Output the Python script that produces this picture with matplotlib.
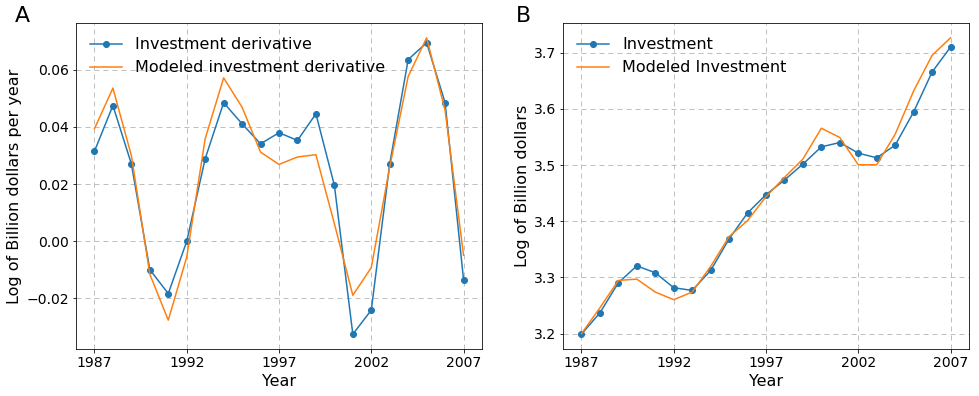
# Import libraries
import numpy as np
import matplotlib.pyplot as plt

# Data
years = np.arange(1987, 2008)

inv_deriv = [0.0315, 0.0475, 0.0271, -0.0099, -0.0183, 0.0000, 0.0289,
             0.0485, 0.0411, 0.0341, 0.0380, 0.0353, 0.0446, 0.0196,
             -0.0325, -0.0241, 0.0271, 0.0636, 0.0695, 0.0485, -0.0134]
model_deriv = [0.0394, 0.0536, 0.0300, -0.0115, -0.0276, -0.0055, 0.0359,
               0.0572, 0.0469, 0.0312, 0.0269, 0.0295, 0.0303, 0.0062,
               -0.0189, -0.0092, 0.0260, 0.0577, 0.0712, 0.0458, -0.0049]

investment = [3.199, 3.237, 3.2905, 3.3207, 3.3083, 3.2817, 3.2769,
              3.3124, 3.3686, 3.4148, 3.4473, 3.4734, 3.5018, 3.5325,
              3.5402, 3.5213, 3.5130, 3.5355, 3.5947, 3.6657, 3.7101]
model_inv = [3.200, 3.246, 3.2947, 3.297, 3.274, 3.2604, 3.274,
             3.3195, 3.3728, 3.4012, 3.4438, 3.4781, 3.5107, 3.5657,
             3.5491, 3.5006, 3.5006, 3.555, 3.632, 3.6953, 3.7266]

xtick_years = [1987, 1992, 1997, 2002, 2007]

# Figure
fig = plt.figure(figsize=(979 / 72, 396 / 72), dpi=72)
axA = fig.add_axes([76 / 979, 47 / 396, 406 / 979, 326 / 396])
axB = fig.add_axes([563 / 979, 47 / 396, 406 / 979, 326 / 396])

panels = [
    (axA, inv_deriv, model_deriv, "Investment derivative",
     "Modeled investment derivative", "Log of Billion dollars per year", "A"),
    (axB, investment, model_inv, "Investment",
     "Modeled Investment", "Log of Billion dollars", "B"),
]

for ax, obs, mod, lab_obs, lab_mod, ylab, letter in panels:
    ax.plot(years, obs, "-o", color="#1f77b4", lw=1.5, ms=6, label=lab_obs)
    ax.plot(years, mod, "-", color="#ff7f0e", lw=1.5, label=lab_mod)
    ax.set_xticks(xtick_years)
    ax.tick_params(labelsize=14)
    ax.set_xlabel("Year", fontsize=16)
    ax.set_ylabel(ylab, fontsize=16)
    ax.grid(True, linestyle=(0, (5, 4)), color="0.75", lw=1)
    ax.legend(loc="upper left", frameon=False, fontsize=16)
    ax.set_axisbelow(True)

fig.text(15 / 979, 1 - 6 / 396, "A", fontsize=22, va="top", ha="left")
fig.text(516 / 979, 1 - 6 / 396, "B", fontsize=22, va="top", ha="left")

# Save
fig.savefig("out.png", dpi=72)
